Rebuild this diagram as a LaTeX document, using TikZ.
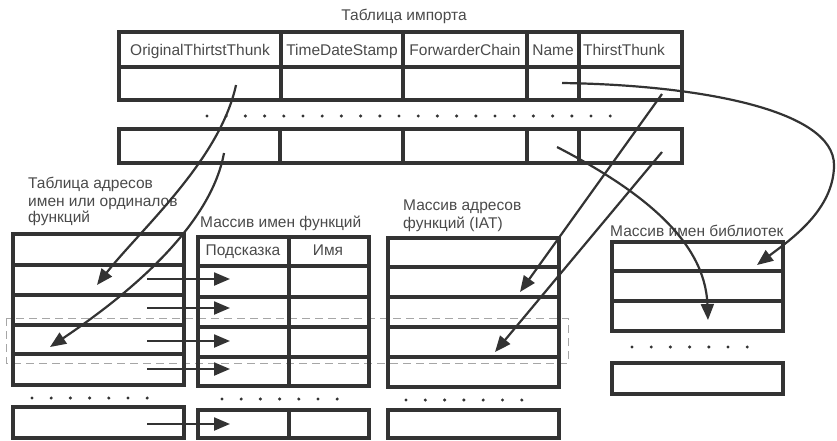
\documentclass[tikz,border=0pt]{standalone}
\usepackage{fontspec}
\setmainfont{Liberation Sans}
\usepackage{xcolor}
\usetikzlibrary{
	arrows.meta,
	calc
}
\definecolor{linegray}{HTML}{333333}
\definecolor{textgray}{HTML}{4a4a4a}

\begin{document}
\begin{tikzpicture}[x=1pt, y=-1pt,
		tbl/.style={line width=3.2pt, draw=linegray},
		ptr/.style={line width=2.2pt, draw=linegray, -{Triangle[length=16pt,width=13pt]}},
		lbl/.style={text=textgray, font=\fontsize{15.5}{17}\selectfont, inner sep=0pt, anchor=base},
		caption/.style={lbl, anchor=base west},
		sel/.style={draw=gray!70, line width=1pt, dash pattern=on 8pt off 5pt}]
		\useasboundingbox (0,0) rectangle (837,440);
		% selected rows
		\draw[sel] (6,318) rectangle (568,363);
		% import table
		\node[lbl] (ttl) at (404,20) {Таблица импорта};
		\draw[tbl] (119,32) rectangle (682,100);
		\draw[tbl] (119,67) -- (682,67);
		\foreach \x in {281,403,527,579} \draw[tbl] (\x,32) -- (\x,100);
		\draw[tbl] (119,129) rectangle (682,163);
		\foreach \x in {280,403,527,579} \draw[tbl] (\x,129) -- (\x,163);
		\foreach \i in {0,...,21} \fill[linegray] ({207+\i*19.2},116) circle (1.7pt);
		\node[lbl] (hOrig) at (200,55) {OriginalThirtstThunk};
		\node[lbl] (hTime) at (342,55) {TimeDateStamp};
		\node[lbl] (hFwd) at (465,55) {ForwarderChain};
		\node[lbl] (hName) at (553,55) {Name};
		\node[lbl] (hThunk) at (624,55) {ThirstThunk};
		% lookup table
		\node[caption] (lkA) at (28,188) {Таблица адресов};
		\node[caption] (lkB) at (28,206) {имен или ординалов};
		\node[caption] (lkC) at (28,222) {функций};
		\draw[tbl] (13,234) rectangle (184,385);
		\foreach \y in {265,295,325,354} \draw[tbl] (13,\y) -- (184,\y);
		\draw[tbl] (13,407) rectangle (184,438);
		\foreach \i in {0,...,6} \fill[linegray] ({32+\i*19.2},398) circle (1.7pt);
		% function names
		\node[caption] (fnT) at (200,227) {Массив имен функций};
		\draw[tbl] (198,237) rectangle (369,386);
		\foreach \y in {266,297,327,357} \draw[tbl] (198,\y) -- (369,\y);
		\draw[tbl] (289,237) -- (289,386);
		\draw[tbl] (198,410) rectangle (369,438);
		\draw[tbl] (289,410) -- (289,438);
		\foreach \i in {0,...,6} \fill[linegray] ({222+\i*19.2},399) circle (1.7pt);
		\node[lbl] (hHint) at (243,255) {Подсказка};
		\node[lbl] (hFn) at (328,255) {Имя};
		% IAT
		\node[caption] (iatA) at (403,210) {Массив адресов};
		\node[caption] (iatB) at (403,228) {функций (IAT)};
		\draw[tbl] (388,238) rectangle (559,387);
		\foreach \y in {267,297,327,357} \draw[tbl] (388,\y) -- (559,\y);
		\draw[tbl] (388,410) rectangle (559,438);
		\foreach \i in {0,...,6} \fill[linegray] ({406+\i*19.3},400) circle (1.7pt);
		% library names
		\node[caption] (libT) at (610,236) {Массив имен библиотек};
		\draw[tbl] (612,242) rectangle (783,331);
		\foreach \y in {271,301} \draw[tbl] (612,\y) -- (783,\y);
		\draw[tbl] (612,363) rectangle (783,394);
		\foreach \i in {0,...,6} \fill[linegray] ({632+\i*19.2},347) circle (1.7pt);
		% pointers
		\coordinate (otA) at (236,85);
		\coordinate (otB) at (224,153);
		\coordinate (ttA) at (662,94);
		\coordinate (ttB) at (662,152);
		\coordinate (nmA) at (562,83);
		\coordinate (nmB) at (557,147);
		\coordinate (lk2) at (97,285);
		\coordinate (lk4) at (50,347);
		\coordinate (iat2) at (520,292);
		\coordinate (iat4) at (495,352);
		\coordinate (lib1) at (757,265);
		\coordinate (lib3) at (708,320);
		\foreach \y [count=\i] in {279,308,341,369,424} {
			\coordinate (src\i) at (147,\y);
			\coordinate (dst\i) at (230,\y);
			\draw[ptr] (src\i) -- (dst\i);
		}
		\draw[ptr] (otA) .. controls (220,160) and (140,230) .. (lk2);
		\draw[ptr] (otB) .. controls (210,230) and (120,300) .. (lk4);
		\draw[ptr] (ttA) -- (iat2);
		\draw[ptr] (ttB) -- (iat4);
		\draw[ptr] (nmB) .. controls (640,190) and (705,240) .. (lib3);
		\draw[ptr] (nmA) .. controls (700,85) and (834,110) .. (834,165) .. controls (834,210) and (790,240) .. (lib1);
	\end{tikzpicture}
\end{document}
